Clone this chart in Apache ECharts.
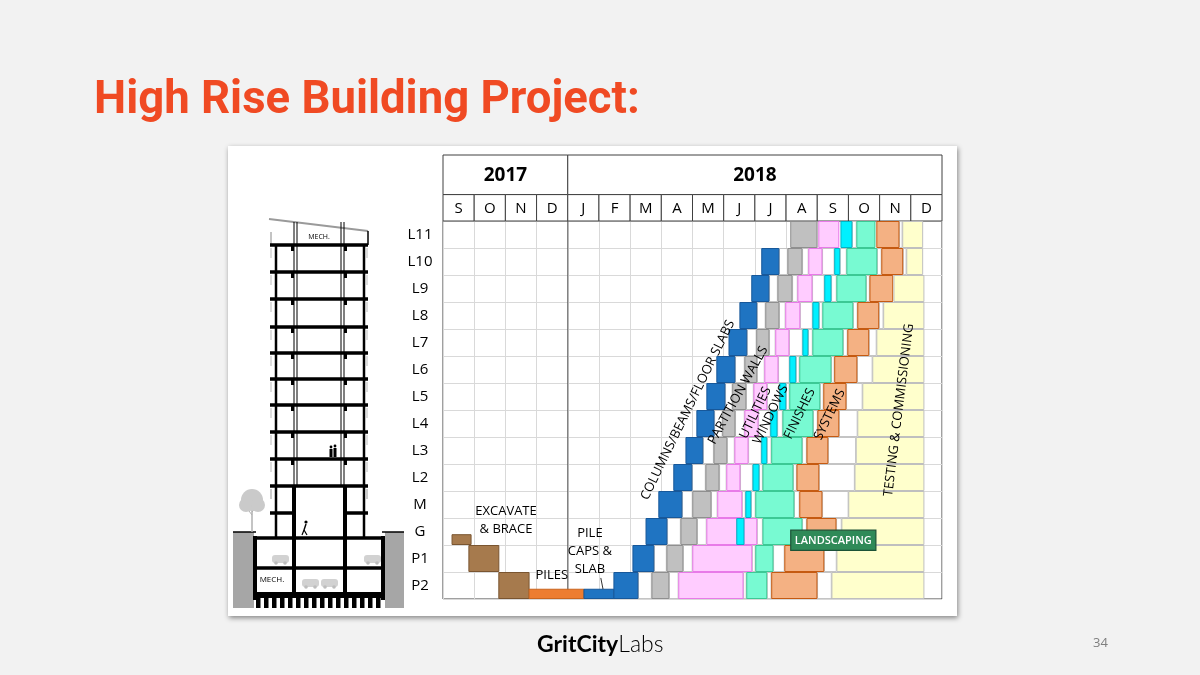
<!DOCTYPE html>
<html>
<head>
<meta charset="utf-8">
<title>High Rise Building Project</title>
<script src="https://cdn.jsdelivr.net/npm/echarts@6/dist/echarts.min.js"></script>
<style>
  html, body { margin: 0; padding: 0; background: #f2f2f2; }
  #panel { position: absolute; left: 228px; top: 146px; width: 729px; height: 470px; background: #fff; box-shadow: 1px 2px 5px rgba(0,0,0,0.45); }
  #chart { position: absolute; left: 0; top: 0; width: 1200px; height: 675px; }
</style>
</head>
<body>
<div id="panel"></div>
<div id="chart"></div>
<script>
// ---- data (months counted from the start of Sep 2017) ----
var floors = ['L11', 'L10', 'L9', 'L8', 'L7', 'L6', 'L5', 'L4', 'L3', 'L2', 'M', 'G', 'P1', 'P2'];
var years = [['2017', 0, 4], ['2018', 4, 16]];
var months = ['S', 'O', 'N', 'D', 'J', 'F', 'M', 'A', 'M', 'J', 'J', 'A', 'S', 'O', 'N', 'D'];

// [floor, start, end, share of the row left empty on top]
var excavate = [['G', 0.29, 0.90, 0.6], ['P1', 0.83, 1.79], ['P2', 1.79, 2.76]];
var piles = [['P2', 2.76, 4.52, 0.62]];
var pileCaps = [['P2', 4.52, 5.48, 0.62]];

var columns = [
  ['L10', 10.22, 10.77], ['L9', 9.90, 10.45], ['L8', 9.52, 10.06], ['L7', 9.17, 9.74],
  ['L6', 8.78, 9.36], ['L5', 8.46, 9.04], ['L4', 8.14, 8.69], ['L3', 7.79, 8.33],
  ['L2', 7.40, 7.98], ['M', 6.92, 7.66], ['G', 6.51, 7.18], ['P1', 6.09, 6.76], ['P2', 5.48, 6.25]
];
var partitions = [
  ['L11', 11.15, 11.99], ['L10', 11.06, 11.51], ['L9', 10.74, 11.19], ['L8', 10.35, 10.77],
  ['L7', 10.06, 10.45], ['L6', 9.68, 10.06], ['L5', 9.29, 9.71], ['L4', 8.97, 9.36],
  ['L3', 8.69, 9.10], ['L2', 8.43, 8.85], ['M', 8.01, 8.59], ['G', 7.63, 8.14],
  ['P1', 7.18, 7.69], ['P2', 6.70, 7.24]
];
var utilities = [
  ['L11', 12.05, 12.69], ['L10', 11.73, 12.15], ['L9', 11.38, 11.83], ['L8', 10.99, 11.44],
  ['L7', 10.67, 11.09], ['L6', 10.32, 10.74], ['L5', 9.97, 10.38], ['L4', 9.68, 10.10],
  ['L3', 9.36, 9.78], ['L2', 9.10, 9.52], ['M', 8.81, 9.58], ['G', 8.46, 9.42],
  ['G', 9.65, 10.06], ['P1', 8.01, 9.90], ['P2', 7.56, 9.62]
];
var windows = [
  ['L11', 12.76, 13.11], ['L10', 12.56, 12.72], ['L9', 12.24, 12.44], ['L8', 11.86, 12.05],
  ['L7', 11.54, 11.70], ['L6', 11.12, 11.31], ['L5', 10.80, 10.99], ['L4', 10.51, 10.71],
  ['L3', 10.22, 10.38], ['L2', 9.94, 10.13], ['M', 9.71, 9.87], ['G', 9.42, 9.65]
];
var finishes = [
  ['L11', 13.27, 13.85], ['L10', 12.95, 13.91], ['L9', 12.63, 13.56], ['L8', 12.18, 13.14],
  ['L7', 11.86, 12.82], ['L6', 11.44, 12.44], ['L5', 11.12, 12.08], ['L4', 10.90, 11.86],
  ['L3', 10.54, 11.51], ['L2', 10.26, 11.22], ['M', 10.03, 11.25], ['G', 10.26, 11.51],
  ['P1', 10.03, 10.58], ['P2', 9.74, 10.38]
];
var systems = [
  ['L11', 13.91, 14.62], ['L10', 14.07, 14.74], ['L9', 13.69, 14.42], ['L8', 13.30, 13.97],
  ['L7', 12.98, 13.65], ['L6', 12.56, 13.27], ['L5', 12.21, 12.92], ['L4', 12.02, 12.69],
  ['L3', 11.67, 12.34], ['L2', 11.35, 12.05], ['M', 11.44, 12.15], ['G', 11.67, 12.60],
  ['P1', 10.96, 12.21], ['P2', 10.54, 11.99]
];
var testing = [
  ['L11', 14.74, 15.38], ['L10', 14.87, 15.38], ['L9', 14.46, 15.42], ['L8', 14.13, 15.42],
  ['L7', 13.91, 15.42], ['L6', 13.78, 15.42], ['L5', 13.46, 15.42], ['L4', 13.30, 15.42],
  ['L3', 13.25, 15.42], ['L2', 13.21, 15.42], ['M', 13.01, 15.42], ['G', 12.79, 15.42],
  ['P1', 12.63, 15.42], ['P2', 12.47, 15.42]
];

// annotations: [text, month, row]
var labels = [
  ['COLUMNS/BEAMS/FLOOR SLABS', 7.85, 7.0],
  ['PARTITION WALLS', 9.46, 6.45],
  ['UTILITIES', 10.02, 7.1],
  ['WINDOWS', 10.51, 7.17],
  ['FINISHES', 11.44, 7.14],
  ['SYSTEMS', 12.40, 7.17],
  ['TESTING & COMMISSIONING', 14.62, 7.0],
  ['EXCAVATE\n& BRACE', 2.02, 11.1],
  ['PILE\nCAPS &\nSLAB', 4.71, 12.25],
  ['PILES', 3.49, 13.12]
];
var leader = [5.06, 13.22, 5.13, 13.63];
var landscaping = ['LANDSCAPING', 11.15, 13.88, 11.45, 12.2];

// ---- styles ----
var labelAngle = { 'TESTING & COMMISSIONING': 83, 'PARTITION WALLS': 61 };
var activities = [
  { name: 'Excavate & Brace', data: excavate, fill: '#a67a4d', stroke: '#7a5530' },
  { name: 'Piles', data: piles, fill: '#ed7d31', stroke: '#c9651f' },
  { name: 'Pile Caps & Slab', data: pileCaps, fill: '#1f74c2', stroke: '#17589a' },
  { name: 'Columns/Beams/Floor Slabs', data: columns, fill: '#1f74c2', stroke: '#17589a', main: true },
  { name: 'Partition Walls', data: partitions, fill: '#c0c0c0', stroke: '#8f8f8f', main: true },
  { name: 'Utilities', data: utilities, fill: '#ffccff', stroke: '#e87ae8', main: true },
  { name: 'Windows', data: windows, fill: '#00f0ff', stroke: '#00b3c4', main: true },
  { name: 'Finishes', data: finishes, fill: '#78fad2', stroke: '#3cc995', main: true },
  { name: 'Systems', data: systems, fill: '#f4b183', stroke: '#c55a11', main: true },
  { name: 'Testing & Commissioning', data: testing, fill: '#ffffcc', stroke: '#bfbfbf', main: true }
];

function toItems(list) {
  return list.map(function (d) {
    var r = floors.indexOf(d[0]);
    return [d[1], d[2], r + (d[3] || 0), r + 1];
  });
}

// white spacer boxes between consecutive activities on each floor
var gaps = [];
floors.forEach(function (f, r) {
  var segs = [];
  activities.forEach(function (a) {
    if (!a.main) return;
    a.data.forEach(function (d) { if (d[0] === f) segs.push([d[1], d[2]]); });
  });
  segs.sort(function (a, b) { return a[0] - b[0]; });
  for (var i = 1; i < segs.length; i++) {
    if (segs[i][0] - segs[i - 1][1] > 0.12) gaps.push([segs[i - 1][1] + 0.02, segs[i][0] - 0.02, r, r + 1]);
  }
});

function rectRender(fill, stroke) {
  return function (params, api) {
    var a = api.coord([api.value(0), api.value(2)]);
    var b = api.coord([api.value(1), api.value(3)]);
    return {
      type: 'rect',
      shape: { x: a[0], y: a[1] + 0.5, width: b[0] - a[0], height: b[1] - a[1] - 1 },
      style: { fill: fill, stroke: stroke, lineWidth: 1 }
    };
  };
}

var headerCells = years.map(function (y) { return [y[1], y[2], 0]; })
  .concat(months.map(function (m, i) { return [i, i + 1, 1]; }));
var headerText = years.map(function (y) { return y[0]; }).concat(months);

var series = [];

series.push({
  type: 'custom', name: 'header', xAxisIndex: 0, yAxisIndex: 0, silent: true,
  data: headerCells,
  renderItem: function (params, api) {
    var row = api.value(2);
    var split = 0.6;
    var a = api.coord([api.value(0), row === 0 ? 0 : split]);
    var b = api.coord([api.value(1), row === 0 ? split : 1]);
    return {
      type: 'group',
      children: [
        { type: 'rect', shape: { x: a[0], y: a[1], width: b[0] - a[0], height: b[1] - a[1] },
          style: { fill: '#fff', stroke: '#404040', lineWidth: 1 } },
        { type: 'text', x: (a[0] + b[0]) / 2, y: (a[1] + b[1]) / 2 + 1,
          style: { text: headerText[params.dataIndex], fill: '#000', align: 'center', verticalAlign: 'middle',
            font: row === 0 ? 'bold 19px "Open Sans"' : '15px "Open Sans"' } }
      ]
    };
  }
});

series.push({
  type: 'custom', name: 'year divider', xAxisIndex: 1, yAxisIndex: 2, silent: true, z: 1,
  data: years.slice(1).map(function (y) { return [y[1]]; }),
  renderItem: function (params, api) {
    var x = api.coord([api.value(0), 0])[0];
    var cs = params.coordSys;
    return { type: 'line', shape: { x1: x, y1: cs.y, x2: x, y2: cs.y + cs.height }, style: { stroke: '#595959', lineWidth: 1 } };
  }
});

series.push({
  type: 'custom', name: 'spacers', xAxisIndex: 1, yAxisIndex: 2, silent: true, z: 2,
  encode: { x: [0, 1], y: [2, 3] },
  data: gaps, renderItem: rectRender('#ffffff', '#c4c4c4')
});

activities.forEach(function (a) {
  series.push({
    type: 'custom', name: a.name, xAxisIndex: 1, yAxisIndex: 2, z: 3,
    encode: { x: [0, 1], y: [2, 3] },
    data: toItems(a.data), renderItem: rectRender(a.fill, a.stroke)
  });
});

series.push({
  type: 'custom', name: 'labels', xAxisIndex: 1, yAxisIndex: 2, silent: true, z: 5,
  data: labels.map(function (l) { return [l[1], l[2]]; }),
  renderItem: function (params, api) {
    var p = api.coord([api.value(0), api.value(1)]);
    var t = labels[params.dataIndex][0];
    var multi = t.indexOf('\n') >= 0;
    var ang = labelAngle[t] !== undefined ? labelAngle[t] : (multi || t === 'PILES' ? 0 : 64);
    return {
      type: 'text', x: p[0], y: p[1], rotation: ang * Math.PI / 180,
      style: { text: t, fill: '#000', align: 'center', verticalAlign: 'middle',
        font: '13px "Open Sans"', lineHeight: 18 }
    };
  }
});

series.push({
  type: 'custom', name: 'callouts', xAxisIndex: 1, yAxisIndex: 2, silent: true, z: 6,
  data: [[landscaping[1], landscaping[2], landscaping[3], landscaping[4]]],
  renderItem: function (params, api) {
    var a = api.coord([api.value(0), api.value(2)]);
    var b = api.coord([api.value(1), api.value(3)]);
    var l0 = api.coord([leader[0], leader[1]]);
    var l1 = api.coord([leader[2], leader[3]]);
    return {
      type: 'group',
      children: [
        { type: 'rect', shape: { x: a[0], y: a[1], width: b[0] - a[0], height: b[1] - a[1] },
          style: { fill: '#2f8a58', stroke: '#1c5236', lineWidth: 1.2 } },
        { type: 'text', x: (a[0] + b[0]) / 2, y: (a[1] + b[1]) / 2 + 0.5,
          style: { text: landscaping[0], fill: '#fff', align: 'center', verticalAlign: 'middle', font: '600 11px "Open Sans"' } },
        { type: 'line', shape: { x1: l0[0], y1: l0[1], x2: l1[0], y2: l1[1] }, style: { stroke: '#333', lineWidth: 1 } }
      ]
    };
  }
});

// ---- building section drawing ----
var bld = [];
function ln(x1, y1, x2, y2, w, c) { bld.push({ type: 'line', shape: { x1: x1, y1: y1, x2: x2, y2: y2 }, style: { stroke: c || '#000', lineWidth: w || 1 } }); }
function bx(x, y, w, h, f, r) { bld.push({ type: 'rect', shape: { x: x, y: y, width: w, height: h, r: r || 0 }, style: { fill: f } }); }
function tx(x, y, t, size) { bld.push({ type: 'text', x: x, y: y, style: { text: t, fill: '#000', align: 'center', verticalAlign: 'middle', font: size + 'px "Open Sans"' } }); }
function dot(x, y, r, f) { bld.push({ type: 'circle', shape: { cx: x, cy: y, r: r }, style: { fill: f } }); }

ln(269, 219, 368, 231, 2, '#9a9a9a');
ln(271, 232, 271, 245, 1, '#888');
ln(368, 231, 368, 245, 1.5);
[294, 297, 341, 344].forEach(function (x) { ln(x, 222, x, 486, 1); });
tx(319, 237, 'MECH.', 7);
[245, 272, 299, 327, 353, 379, 405, 432, 459, 486].forEach(function (y, i) {
  ln(270, y, 368, y, 3.5);
  ln(271, y + 3, 271, y + 13, 1, '#bbb');
  ln(367, y + 3, 367, y + 13, 1, '#bbb');
  if (i < 9) { bx(291, y + 1, 3, 5, '#000'); bx(344, y + 1, 3, 5, '#000'); }
});
ln(271, 489, 271, 499, 1, '#bbb');
ln(367, 489, 367, 499, 1, '#bbb');
ln(276, 245, 276, 538, 2.5);
ln(364, 245, 364, 538, 2.5);
ln(270, 513, 294, 513, 3.5);
ln(345, 513, 368, 513, 3.5);
ln(294, 486, 294, 593, 4);
ln(345, 486, 345, 593, 4);
bx(233, 532, 21, 76, '#a6a6a6');
bx(385, 532, 19, 76, '#a6a6a6');
ln(233, 532, 256, 532, 1.5);
ln(382, 532, 404, 532, 1.5);
ln(255, 538, 383, 538, 3.5);
ln(255, 568, 383, 568, 3.5);
ln(255, 536, 255, 600, 4);
ln(383, 536, 383, 600, 4);
bx(253, 592, 132, 6, '#000');
for (var px = 256; px < 382; px += 8) bx(px, 597, 4.5, 11, '#000');
tx(272, 580, 'MECH.', 8);
// cars
[[272, 555], [364, 555], [302, 579], [321, 579]].forEach(function (c) {
  bx(c[0], c[1], 17, 8, '#d2d2d2', 3);
  dot(c[0] + 4, c[1] + 8, 1.8, '#bdbdbd');
  dot(c[0] + 13, c[1] + 8, 1.8, '#bdbdbd');
});
// tree
ln(252, 505, 252, 532, 1.5, '#b0b0b0');
ln(252, 515, 246, 507, 1, '#b0b0b0');
ln(252, 512, 258, 505, 1, '#b0b0b0');
dot(252, 500, 11, '#cacaca');
dot(246, 505, 7, '#cacaca');
dot(258, 505, 7, '#cacaca');
// people
dot(306, 522, 1.6, '#000');
ln(306, 524, 304, 530, 1.4);
ln(304, 530, 302, 535, 1.2);
ln(304, 530, 307, 535, 1.2);
dot(331, 447, 1.4, '#000'); dot(335, 446, 1.4, '#000');
bx(329.5, 449, 3, 8, '#000'); bx(333.5, 448, 3, 9, '#000');

var chart = echarts.init(document.getElementById('chart'), null, { renderer: 'canvas' });
chart.setOption({
  backgroundColor: 'transparent',
  animation: false,
  title: {
    text: 'High Rise Building Project:', left: 89, top: 74,
    textStyle: { color: '#f04a23', fontFamily: 'Roboto', fontWeight: 'bold', fontSize: 45.5 }
  },
  grid: [
    { left: 443, top: 155, width: 499, height: 66, show: false },
    { left: 443, top: 221, width: 499, height: 378, show: true, borderColor: '#404040', borderWidth: 1, backgroundColor: '#fff' }
  ],
  xAxis: [
    { gridIndex: 0, type: 'value', min: 0, max: 16, show: false },
    { gridIndex: 1, type: 'value', min: 0, max: 16, interval: 1,
      axisLine: { show: false }, axisTick: { show: false }, axisLabel: { show: false },
      splitLine: { show: true, lineStyle: { color: '#d9d9d9', width: 1 } } }
  ],
  yAxis: [
    { gridIndex: 0, type: 'value', min: 0, max: 1, inverse: true, show: false },
    { gridIndex: 1, type: 'category', data: floors, inverse: true,
      axisLine: { show: false }, axisTick: { show: false },
      axisLabel: { interval: 0, margin: 23, align: 'center', color: '#000', fontSize: 15, fontFamily: 'Open Sans' },
      splitLine: { show: true, interval: 0, lineStyle: { color: '#d9d9d9', width: 1 } } },
    { gridIndex: 1, type: 'value', min: 0, max: 14, inverse: true, show: false }
  ],
  graphic: [
    { type: 'group', silent: true, children: bld },
    { type: 'text', left: 537, top: 633, silent: true,
      style: { text: '{b|GritCity}{l|Labs}', rich: {
        b: { fontFamily: 'Lato', fontWeight: 'bold', fontSize: 23, fill: '#000' },
        l: { fontFamily: 'Lato', fontWeight: 300, fontSize: 23, fill: '#000' } } } },
    { type: 'text', left: 1093, top: 637, silent: true,
      style: { text: '34', fill: '#7f7f7f', font: '13px "Open Sans"' } }
  ],
  series: series
});
</script>
</body>
</html>
